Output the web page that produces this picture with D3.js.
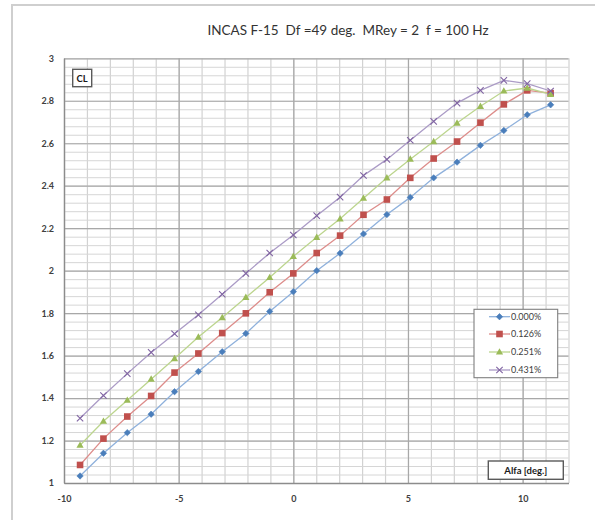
<!DOCTYPE html>
<html>
<head>
<meta charset="utf-8">
<script src="https://cdn.jsdelivr.net/npm/d3@7"></script>
<style>
  html, body { margin: 0; padding: 0; background: #ffffff; }
  svg { display: block; }
  text { font-family: Lato, "Open Sans", "DejaVu Sans", sans-serif; }
</style>
</head>
<body>
<svg id="chart" width="595" height="520"></svg>
<script>
// Angle of attack (deg.) shared by all runs
const alfa = [-9.3, -8.28, -7.24, -6.2, -5.18, -4.14, -3.1, -2.07, -1.03, 0, 1.02, 2.04, 3.06, 4.08, 5.1, 6.12, 7.14, 8.16, 9.18, 10.2, 11.22];

// Lift coefficient per blowing rate
const cl000 = [1.033, 1.140, 1.237, 1.324, 1.430, 1.525, 1.618, 1.704, 1.808, 1.901, 2.000, 2.082, 2.173, 2.264, 2.345, 2.437, 2.511, 2.590, 2.660, 2.734, 2.781];
const cl126 = [1.085, 1.209, 1.313, 1.410, 1.520, 1.610, 1.706, 1.799, 1.898, 1.987, 2.083, 2.165, 2.263, 2.335, 2.437, 2.528, 2.608, 2.697, 2.783, 2.849, 2.836];
const cl251 = [1.178, 1.291, 1.390, 1.489, 1.586, 1.687, 1.779, 1.874, 1.968, 2.067, 2.157, 2.244, 2.341, 2.437, 2.525, 2.608, 2.695, 2.774, 2.846, 2.860, 2.830];
const cl431 = [1.305, 1.412, 1.515, 1.615, 1.703, 1.792, 1.889, 1.987, 2.083, 2.168, 2.259, 2.346, 2.448, 2.524, 2.614, 2.703, 2.789, 2.849, 2.896, 2.881, 2.846];

const seriesNames = ["0.000%", "0.126%", "0.251%", "0.431%"];
const xTicks = [-10, -5, 0, 5, 10];
const yTicks = [1, 1.2, 1.4, 1.6, 1.8, 2, 2.2, 2.4, 2.6, 2.8, 3];

const title = "INCAS F-15  Df =49 deg.  MRey = 2  f = 100 Hz";
const yTitle = "CL";
const xTitle = "Alfa [deg.]";

const series = [
  { name: seriesNames[0], values: cl000, marker: "diamond",  color: "#4a7ebb", line: "#8fb1dc" },
  { name: seriesNames[1], values: cl126, marker: "square",   color: "#c0504d", line: "#dd8d8b" },
  { name: seriesNames[2], values: cl251, marker: "triangle", color: "#9bbb59", line: "#bcd58e" },
  { name: seriesNames[3], values: cl431, marker: "cross",    color: "#8064a2", line: "#ab9bc6" }
];

const svg = d3.select("#chart");

// outer chart frame
svg.append("rect")
  .attr("x", 12).attr("y", 5).attr("width", 600).attr("height", 540)
  .attr("fill", "#ffffff").attr("stroke", "#cfcfcf").attr("stroke-width", 2);

const plot = { left: 64, top: 58.3, right: 568.5, bottom: 483 };

const x = d3.scaleLinear().domain([-10, 12]).range([plot.left, plot.right]);
const y = d3.scaleLinear().domain([1, 3]).range([plot.bottom, plot.top]);

const grid = svg.append("g");

// minor gridlines
const xMinor = d3.range(-10, 12.001, 1);
const yMinor = d3.range(0, 51).map(i => 1 + i * 0.04);

grid.append("g")
  .attr("transform", `translate(0,${plot.bottom})`)
  .call(d3.axisBottom(x).tickValues(xMinor).tickSize(-(plot.bottom - plot.top)).tickFormat(""))
  .call(g => g.select(".domain").remove())
  .call(g => g.selectAll("line").attr("stroke", "#d2d2d2").attr("stroke-width", 1.2));

grid.append("g")
  .attr("transform", `translate(${plot.left},0)`)
  .call(d3.axisLeft(y).tickValues(yMinor).tickSize(-(plot.right - plot.left)).tickFormat(""))
  .call(g => g.select(".domain").remove())
  .call(g => g.selectAll("line").attr("stroke", "#d6d6d6").attr("stroke-width", 1));

// major gridlines
grid.append("g")
  .attr("transform", `translate(0,${plot.bottom})`)
  .call(d3.axisBottom(x).tickValues(xTicks).tickSize(-(plot.bottom - plot.top)).tickFormat(""))
  .call(g => g.select(".domain").remove())
  .call(g => g.selectAll("line").attr("stroke", "#a8a8a8").attr("stroke-width", 1.2));

grid.append("g")
  .attr("transform", `translate(${plot.left},0)`)
  .call(d3.axisLeft(y).tickValues(yTicks).tickSize(-(plot.right - plot.left)).tickFormat(""))
  .call(g => g.select(".domain").remove())
  .call(g => g.selectAll("line").attr("stroke", "#a8a8a8").attr("stroke-width", 1.2));

// axes with labels
const fmt = d => String(+d.toFixed(1));

svg.append("g")
  .attr("transform", `translate(0,${plot.bottom})`)
  .call(d3.axisBottom(x).tickValues(xTicks).tickSize(0).tickPadding(13).tickFormat(fmt))
  .call(g => g.select(".domain").attr("stroke", "#8c8c8c").attr("stroke-width", 1.3))
  .call(g => g.selectAll("text").attr("font-size", 9).attr("font-weight", "bold").attr("fill", "#404040"));

svg.append("g")
  .attr("transform", `translate(${plot.left},0)`)
  .call(d3.axisLeft(y).tickValues(yTicks).tickSize(0).tickPadding(10).tickFormat(fmt))
  .call(g => g.select(".domain").attr("stroke", "#8c8c8c").attr("stroke-width", 1.3))
  .call(g => g.selectAll("text").attr("font-size", 9).attr("font-weight", "bold").attr("fill", "#404040"));

// series lines and markers
const lineGen = d3.line().x(d => x(d[0])).y(d => y(d[1]));

function drawMarker(sel, type, color) {
  if (type === "diamond") {
    sel.append("path").attr("d", "M0,-3.2L3.2,0L0,3.2L-3.2,0Z")
      .attr("fill", color).attr("stroke", color).attr("stroke-width", 0.6);
  } else if (type === "square") {
    sel.append("rect").attr("x", -3.3).attr("y", -3.3).attr("width", 6.6).attr("height", 6.6)
      .attr("fill", color);
  } else if (type === "triangle") {
    sel.append("path").attr("d", "M0,-3.8L3.6,2.6L-3.6,2.6Z").attr("fill", color);
  } else {
    sel.append("path").attr("d", "M-3.2,-3.2L3.2,3.2M-3.2,3.2L3.2,-3.2")
      .attr("stroke", color).attr("stroke-width", 1.1).attr("fill", "none");
  }
}

series.forEach(s => {
  const pts = alfa.map((a, i) => [a, s.values[i]]);
  svg.append("path").datum(pts)
    .attr("d", lineGen)
    .attr("fill", "none").attr("stroke", s.line).attr("stroke-width", 1.3);
  const g = svg.append("g");
  pts.forEach(p => {
    const m = g.append("g").attr("transform", `translate(${x(p[0])},${y(p[1])})`);
    drawMarker(m, s.marker, s.color);
  });
});

// title
svg.append("text")
  .attr("x", 348).attr("y", 35)
  .attr("text-anchor", "middle")
  .attr("font-size", 13.5)
  .attr("fill", "#333333")
  .style("white-space", "pre")
  .text(title);

// axis title boxes
function titleBox(cx, cy, w, h, label) {
  svg.append("rect").attr("x", cx).attr("y", cy).attr("width", w).attr("height", h)
    .attr("fill", "#ffffff").attr("stroke", "#5a5a5a").attr("stroke-width", 1.4);
  svg.append("text").attr("x", cx + w / 2).attr("y", cy + h / 2 + 3.5)
    .attr("text-anchor", "middle").attr("font-size", 9.5).attr("font-weight", "bold")
    .attr("fill", "#1a1a1a").text(label);
}
titleBox(72.7, 69.3, 19, 17.4, yTitle);
titleBox(488.3, 461, 75, 18.3, xTitle);

// legend
const lg = svg.append("g");
lg.append("rect").attr("x", 474).attr("y", 309.3).attr("width", 83.7).attr("height", 68.4)
  .attr("fill", "#ffffff").attr("stroke", "#7f7f7f").attr("stroke-width", 1.1);
const legendY = [316.7, 334, 352, 370];
series.forEach((s, i) => {
  const yy = legendY[i];
  lg.append("line").attr("x1", 489).attr("x2", 510).attr("y1", yy).attr("y2", yy)
    .attr("stroke", s.line).attr("stroke-width", 1.3);
  drawMarker(lg.append("g").attr("transform", `translate(499.5,${yy})`), s.marker, s.color);
  lg.append("text").attr("x", 511).attr("y", yy + 3.2)
    .attr("font-size", 9).attr("fill", "#404040").text(s.name);
});
</script>
</body>
</html>
